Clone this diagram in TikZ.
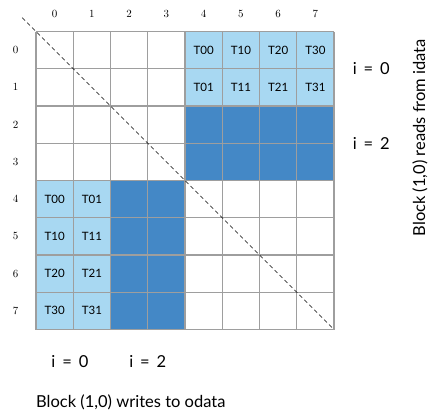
\documentclass[tikz,border=0pt]{standalone}
\usepackage{fontspec}
\newfontfamily\notefont{Lato}
\usetikzlibrary{positioning}
\definecolor{lightcell}{RGB}{168,216,242}
\definecolor{darkcell}{RGB}{68,136,198}
\definecolor{gridgray}{RGB}{158,158,158}
\newcommand{\gap}{\hspace{0.42em}}
\tikzset{gridline/.style={draw=gridgray,line width=1.3pt}}
\tikzset{tlabel/.style={font=\notefont\fontsize{11.5}{11.5}\selectfont,inner sep=0pt}}
\tikzset{idx/.style={font=\fontsize{11}{11}\selectfont,inner sep=0pt}}
\tikzset{note/.style={font=\notefont\fontsize{16.5}{16.5}\selectfont,inner sep=0pt}}

\begin{document}
\begin{tikzpicture}[x=1pt,y=-1pt]
\useasboundingbox (0,0) rectangle (429,413);
\begin{scope}[shift={(36,31.5)},x=37.25pt,y=-37.25pt]
% coloured blocks
\fill[lightcell] (4,0) rectangle (8,2);
\fill[darkcell] (4,2) rectangle (8,4);
\fill[lightcell] (0,4) rectangle (2,8);
\fill[darkcell] (2,4) rectangle (4,8);
\foreach \k in {0,...,8} {
\draw[gridline] (\k,0) -- (\k,8);
\draw[gridline] (0,\k) -- (8,\k);
}
% diagonal
\coordinate (diagstart) at (-0.37,-0.37);
\coordinate (diagend) at (8,8);
\draw[dash pattern=on 4pt off 3pt,line width=0.7pt] (diagstart) -- (diagend);
% indices
\foreach \k in {0,...,7} {
\node[idx] (col\k) at (\k+0.5,-0.47) {$\k$};
\node[idx] (row\k) at (-0.55,\k+0.5) {$\k$};
}
% tiles read
\foreach \c in {4,...,7} {
\pgfmathtruncatemacro{\t}{\c-4}
\node[tlabel] (rd0\c) at (\c+0.5,0.5) {T\t0};
\node[tlabel] (rd1\c) at (\c+0.5,1.5) {T\t1};
}
% tiles written
\foreach \r in {4,...,7} {
\pgfmathtruncatemacro{\t}{\r-4}
\node[tlabel] (wr\r0) at (0.5,\r+0.5) {T\t0};
\node[tlabel] (wr\r1) at (1.5,\r+0.5) {T\t1};
}
\node[note] (ri0) at (9,1) {i\gap=\gap0};
\node[note] (ri2) at (9,3) {i\gap=\gap2};
\node[note] (bi0) at (0.91,8.87) {i\gap=\gap0};
\node[note] (bi2) at (3,8.87) {i\gap=\gap2};
\node[note,rotate=90] (reads) at (10.31,2.85) {Block (1,0) reads from idata};
\node[note,anchor=west] (writes) at (0,9.95) {Block (1,0) writes to odata};
\end{scope}
\end{tikzpicture}
\end{document}
